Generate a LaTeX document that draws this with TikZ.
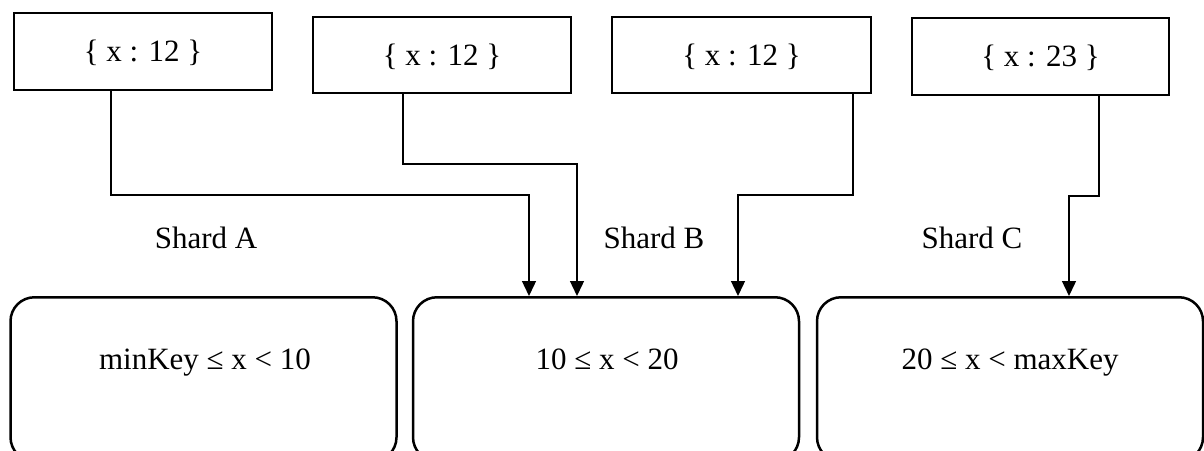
\documentclass[tikz,border=0pt]{standalone}
\usepackage{fontspec}
\setmainfont{Liberation Serif}
\usetikzlibrary{arrows.meta,calc}
\begin{document}
\begin{tikzpicture}[x=1pt,y=-1pt,
  docbox/.style={draw, line width=1.5pt, rectangle, inner sep=0pt,
    font=\fontsize{31}{37}\selectfont, text height=28pt, text depth=7.5pt},
  rangebox/.style={draw, line width=2.5pt, rectangle, rounded corners=24pt,
    minimum width=386pt, minimum height=164pt, inner sep=0pt, anchor=north},
  lbl/.style={font=\fontsize{31}{37}\selectfont, anchor=base, inner sep=0pt},
  conn/.style={line width=1.4pt, -{Triangle[length=15pt,width=14pt]}}
]
\useasboundingbox (0,0) rectangle (1204,450);
\clip (0,0) rectangle (1204,450);

% top documents
\node[docbox, minimum width=258pt, minimum height=77pt] (t1) at (143,51.5) {\{ x : 12 \}};
\node[docbox, minimum width=258pt, minimum height=76pt] (t2) at (442,55) {\{ x : 12 \}};
\node[docbox, minimum width=259pt, minimum height=76pt] (t3) at (741.5,55) {\{ x : 12 \}};
\node[docbox, minimum width=257pt, minimum height=77pt] (t4) at (1040.5,56.5) {\{ x : 23 \}};

% chunk ranges
\node[rangebox] (bA) at (203.5,296) {};
\node[rangebox] (bB) at (606,296) {};
\node[rangebox] (bC) at (1010,296) {};
\node[lbl] (rA) at (205,369) {minKey ≤ x < 10};
\node[lbl] (rB) at (607,369) {10 ≤ x < 20};
\node[lbl] (rC) at (1010,369) {20 ≤ x < maxKey};

% shard labels
\node[lbl] (sA) at (206,248) {Shard A};
\node[lbl] (sB) at (654,248) {Shard B};
\node[lbl] (sC) at (972,248) {Shard C};

% connectors
\draw[conn] (t1.south -| 111,0) |- (529,195) -- (529,0 |- bB.north);
\draw[conn] (t2.south -| 403,0) |- (577,164) -- (577,0 |- bB.north);
\draw[conn] (t3.south -| 853,0) |- (738,195) -- (738,0 |- bB.north);
\draw[conn] (t4.south -| 1099,0) |- (1069,196) -- (1069,0 |- bC.north);
\end{tikzpicture}
\end{document}
